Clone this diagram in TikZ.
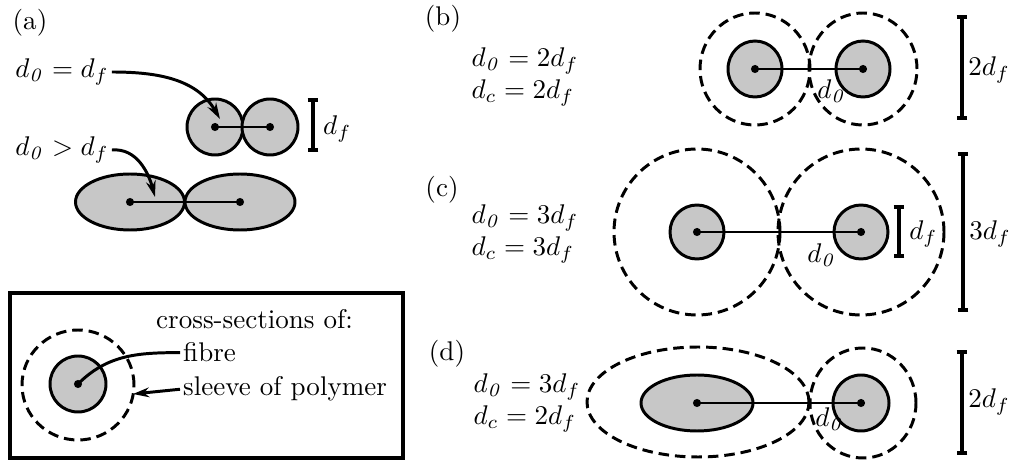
\documentclass[tikz,border=0pt]{standalone}
\usepackage{amsmath,amssymb}
\usepackage{tikz}
\usetikzlibrary{arrows.meta,positioning}

\newcommand{\dzero}{d_{\mathit{0}}}

\begin{document}
\begin{tikzpicture}[x=0.37pt, y=0.37pt,
  fib/.style={draw, line width=1.1pt, fill=black!22},
  slv/.style={draw, line width=1.1pt, dash pattern=on 3.9pt off 2.2pt},
  ctr/.style={circle, fill, inner sep=0pt, minimum size=3pt},
  link/.style={line width=0.9pt},
  bar/.style={line width=1.4pt, {Bar[width=4pt]}-{Bar[width=4pt]}},
  arr/.style={-{Stealth[length=6pt, width=3.6pt]}, line width=1.1pt},
  lbl/.style={inner sep=1pt}]
\useasboundingbox (0,0) rectangle (1009,461);

% (a)
\node (pa) at (30,438) {(a)};
\coordinate (a1) at (215,334);
\coordinate (a2) at (270,334);
\coordinate (e1) at (130,259);
\coordinate (e2) at (240,259);
\draw[fib] (a1) circle[radius=28];
\draw[fib] (a2) circle[radius=28];
\draw[fib] (e1) ellipse[x radius=54.5, y radius=28];
\draw[fib] (e2) ellipse[x radius=55, y radius=28];
\draw[link] (a1) -- (a2);
\draw[link] (e1) -- (e2);
\node[lbl] (eqa) at (62,389) {$\dzero = d_f$};
\node[lbl] (eqe) at (62,311) {$\dzero > d_f$};
\coordinate (ta) at (220,342);
\coordinate (te) at (155,264);
\draw[arr] (eqa.east) to[out=0, in=120] (ta);
\draw[arr] (eqe.east) to[out=5, in=105] (te);
\coordinate (sa1) at (313,363);
\coordinate (sa2) at (313,309);
\draw[bar] (sa1) -- (sa2);
\node[lbl, anchor=west] (dfa) at (320,332) {$d_f$};

% legend
\draw[line width=1.2pt] (10,3) rectangle (403,168);
\coordinate (f0) at (78,77);
\draw[slv] (78,76) ellipse[x radius=56, y radius=55];
\draw[fib] (f0) circle[radius=28];
\node[lbl, anchor=base west] (cs) at (153,132) {cross-sections of:};
\node[lbl, anchor=base west] (fb) at (180,99) {fibre};
\node[lbl, anchor=base west] (sv) at (180,65) {sleeve of polymer};
\coordinate (sl) at (133,67);
\draw[line width=1.1pt] (f0) to[out=45, in=180] (fb.west);
\draw[arr] (sv.west) -- (sl);

% (b)
\node (pb) at (443,442) {(b)};
\node[lbl] (eqb) at (525,385) {$\begin{array}{@{}l@{}} \dzero = 2d_f\\ d_c = 2d_f \end{array}$};
\coordinate (b1) at (755,392);
\coordinate (b2) at (863,392);
\draw[slv] (b1) ellipse[x radius=55, y radius=56];
\draw[slv] (b2) ellipse[x radius=54, y radius=56];
\draw[fib] (b1) ellipse[x radius=27, y radius=28];
\draw[fib] (b2) ellipse[x radius=27, y radius=28];
\draw[link] (b1) -- (b2);
\node[lbl] (db) at (832,370) {$\dzero$};
\coordinate (sb1) at (962,446);
\coordinate (sb2) at (962,341);
\draw[bar] (sb1) -- (sb2);
\node[lbl, anchor=west] (wb) at (965,391) {$2d_f$};

% (c)
\node (pc) at (442,271) {(c)};
\node[lbl] (eqc) at (525,228) {$\begin{array}{@{}l@{}} \dzero = 3d_f\\ d_c = 3d_f \end{array}$};
\coordinate (c1) at (697,229);
\coordinate (c2) at (861,229);
\draw[slv] (c1) circle[radius=83];
\draw[slv] (c2) circle[radius=83];
\draw[fib] (c1) circle[radius=27];
\draw[fib] (c2) circle[radius=27];
\draw[link] (c1) -- (c2);
\node[lbl] (dc) at (822,206) {$\dzero$};
\coordinate (sc1) at (899,256);
\coordinate (sc2) at (899,203);
\draw[bar] (sc1) -- (sc2);
\node[lbl, anchor=west] (fc) at (906,227) {$d_f$};
\coordinate (sc3) at (963,309);
\coordinate (sc4) at (963,149);
\draw[bar] (sc3) -- (sc4);
\node[lbl, anchor=west] (wc) at (966,227) {$3d_f$};

% (d)
\node (pd) at (447,107) {(d)};
\node[lbl] (eqd) at (527,59) {$\begin{array}{@{}l@{}} \dzero = 3d_f\\ d_c = 2d_f \end{array}$};
\coordinate (d1) at (697,58);
\coordinate (d2) at (861,58);
\draw[slv] (698,59) ellipse[x radius=111, y radius=55];
\draw[slv] (863,58) ellipse[x radius=53, y radius=55];
\draw[fib] (d1) ellipse[x radius=56, y radius=28];
\draw[fib] (d2) circle[radius=28];
\draw[link] (d1) -- (d2);
\node[lbl] (dd) at (830,42) {$\dzero$};
\coordinate (sd1) at (962,111);
\coordinate (sd2) at (962,6);
\draw[bar] (sd1) -- (sd2);
\node[lbl, anchor=west] (wd) at (965,59) {$2d_f$};

\foreach \c in {a1,a2,e1,e2,f0,b1,b2,c1,c2,d1,d2}
  \node[ctr] (\c-dot) at (\c) {};
\end{tikzpicture}
\end{document}
